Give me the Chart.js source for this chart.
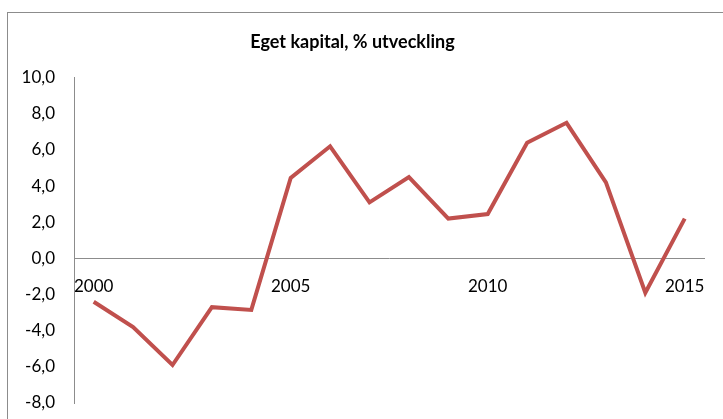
<!DOCTYPE html>
<html>
<head>
<meta charset="utf-8">
<script src="https://cdn.jsdelivr.net/npm/chart.js@4"></script>
<style>
  html, body { margin: 0; padding: 0; background: #fff; }
  #wrap { position: relative; width: 723px; height: 419px; overflow: hidden; }
  #frame { position: absolute; left: 7px; top: 12px; width: 760px; height: 440px; border: 1px solid #8c8c8c; }
  canvas { position: absolute; left: 0; top: 0; }
</style>
</head>
<body>
<div id="wrap">
  <div id="frame"></div>
  <canvas id="myChart" width="723" height="419"></canvas>
</div>
<script>
var years = ['2000', '2001', '2002', '2003', '2004', '2005', '2006', '2007',
             '2008', '2009', '2010', '2011', '2012', '2013', '2014', '2015'];
var equityChange = [-2.4, -3.8, -5.9, -2.7, -2.85, 4.45, 6.2, 3.1,
                    4.5, 2.2, 2.45, 6.4, 7.5, 4.2, -1.9, 2.2];
var shownYears = ['2000', '2005', '2010', '2015'];

document.addEventListener('DOMContentLoaded', function () {
  var ctx = document.getElementById('myChart').getContext('2d');
  var myChart = new Chart(ctx, {
    type: 'line',
    data: {
      labels: years,
      datasets: [{
        label: 'Eget kapital',
        data: equityChange,
        borderColor: '#c0504d',
        borderWidth: 4,
        pointRadius: 0,
        tension: 0,
        borderJoinStyle: 'miter'
      }]
    },
    options: {
      responsive: false,
      animation: false,
      layout: { padding: { left: 0, right: 18, top: 0, bottom: 16 } },
      plugins: {
        legend: { display: false },
        tooltip: { enabled: false },
        title: {
          display: true,
          text: 'Eget kapital, % utveckling',
          color: '#000',
          font: { family: 'Lato', size: 18, weight: 'bold' },
          padding: { top: 31, bottom: 25 }
        }
      },
      scales: {
        x: {
          position: { y: 0 },
          offset: true,
          grid: { display: false, drawTicks: false },
          border: { display: true, color: '#8c8c8c', width: 1 },
          afterFit: function (scale) { scale.height = 0; },
          ticks: {
            autoSkip: false,
            maxRotation: 0,
            padding: 18,
            color: '#000',
            font: { family: 'Lato', size: 17 },
            callback: function (value, index) {
              var y = this.getLabelForValue(value);
              return shownYears.indexOf(y) >= 0 ? y : '';
            }
          }
        },
        y: {
          min: -8,
          max: 10,
          grid: { display: false, drawTicks: false },
          border: { display: true, color: '#8c8c8c', width: 1 },
          afterFit: function (scale) {
            scale.width = 74;
            scale.paddingTop = 0;
            scale.paddingBottom = 0;
          },
          ticks: {
            stepSize: 2,
            padding: 19,
            color: '#000',
            font: { family: 'Lato', size: 17 },
            callback: function (value) {
              return value.toFixed(1).replace('.', ',');
            }
          }
        }
      }
    }
  });
});
</script>
</body>
</html>
